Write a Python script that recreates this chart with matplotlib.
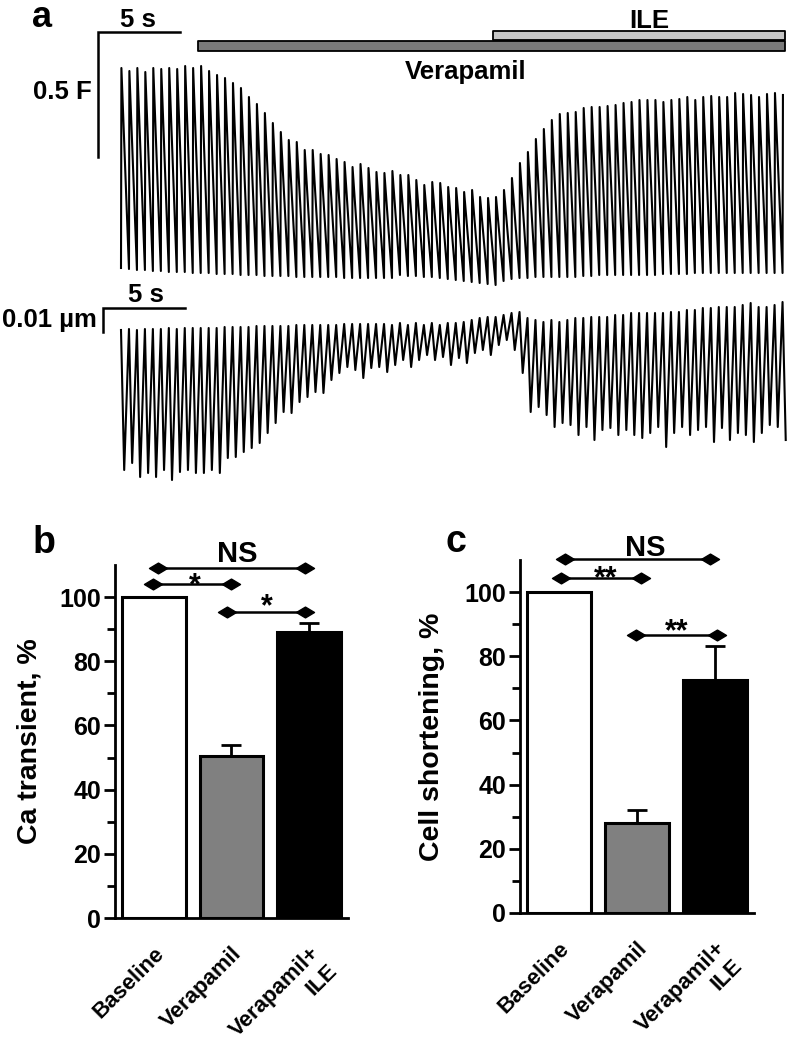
import numpy as np
import matplotlib
matplotlib.use("Agg")
import matplotlib.pyplot as plt
from matplotlib.path import Path

plt.rcParams["font.family"] = ["Liberation Sans", "DejaVu Sans"]
plt.rcParams["font.weight"] = "bold"

# =====================================================
# DATA
# =====================================================

# ---- panel a: per-beat values (arbitrary units) ----
# calcium: 250 units = 1 F ; cell length: 2400 units = 1 um
ca_peak = [232, 229, 232, 228, 232, 231, 232, 231, 234, 232, 234, 229, 225, 222, 217, 212, 203,
           196, 187, 177, 168, 160, 158, 150, 150, 146, 145, 141, 138, 133, 136, 132, 128, 127,
           129, 125, 125, 120, 115, 118, 117, 113, 112, 108, 110, 103, 102, 103, 110, 122, 137,
           148, 161, 171, 180, 186, 187, 188, 192, 193, 193, 194, 195, 197, 198, 200, 200, 200,
           198, 200, 201, 203, 200, 203, 204, 203, 203, 207, 206, 205, 203, 206, 207, 205]
ca_trough = [32, 31, 30, 30, 29, 29, 28, 28, 28, 27, 27, 27, 26, 26, 26, 25, 25, 25, 24, 24, 24,
             24, 23, 23, 23, 23, 23, 23, 22, 22, 22, 22, 22, 22, 22, 25, 24, 24, 23, 23, 22, 21,
             20, 19, 18, 17, 16, 15, 19, 21, 22, 22, 23, 23, 23, 23, 23, 23, 24, 24, 25, 25, 25,
             25, 25, 25, 25, 25, 26, 26, 26, 26, 27, 27, 27, 27, 27, 27, 27, 27, 27, 27, 27, 27]
cell_top = [170, 171, 170, 171, 171, 171, 172, 171, 172, 172, 172, 172, 172, 173, 173, 173, 173,
            174, 174, 174, 174, 174, 175, 175, 175, 175, 175, 175, 176, 176, 176, 176, 176, 176,
            175, 177, 175, 177, 175, 177, 175, 177, 177, 178, 180, 182, 183, 183, 185, 187, 188,
            182, 180, 178, 180, 178, 180, 182, 182, 183, 183, 183, 185, 185, 187, 187, 187, 187,
            187, 188, 188, 190, 190, 192, 192, 193, 193, 193, 195, 197, 193, 193, 195, 198]
cell_bottom = [30, 37, 23, 27, 23, 30, 20, 28, 30, 27, 27, 30, 27, 42, 43, 48, 52, 57, 67, 77,
               88, 87, 98, 103, 108, 107, 120, 127, 133, 130, 122, 132, 133, 128,
               135, 140, 133, 140, 145, 140, 143, 135, 142, 137, 147, 150, 145, 155, 160, 150, 127,
               88, 93, 85, 73, 77, 75, 65, 73, 60, 70, 72, 65, 70, 65, 62, 67, 73, 53, 67, 73,
               65, 70, 73, 58, 72, 60, 67, 65, 58, 67, 75, 73, 60]

BEAT_PERIOD = 0.486          # s
VERAPAMIL_START = 4.7        # s
ILE_START = 22.7             # s
RECORD_END = 40.5            # s

# ---- panels b, c ----
groups = ["Baseline", "Verapamil", "Verapamil+\nILE"]
ca_mean = [100, 50.5, 89.1]
ca_sem = [0, 3.3, 2.9]
cs_mean = [100, 27.9, 72.5]
cs_sem = [0, 4.2, 10.8]

bar_colors = ["white", "#808080", "black"]

# =====================================================

W, H = 788, 1057
fig = plt.figure(figsize=(W / 100, H / 100), dpi=100)

PX_PER_S = 16.4
T0_PX = 121
XLIM = (-T0_PX / PX_PER_S, (W - T0_PX) / PX_PER_S)

FS = 18.5
LW_TRACE = 1.5

beat_t = np.arange(len(ca_peak)) * BEAT_PERIOD

# -------- calcium trace --------
ax_ca = fig.add_axes([0, 1 - 300 / H, 1, 300 / H])
ax_ca.set_xlim(*XLIM)
ax_ca.set_ylim(0, 300)
ax_ca.axis("off")

ca_x = np.column_stack([beat_t, beat_t + 0.05 * BEAT_PERIOD]).ravel()
ca_y = np.column_stack([ca_trough, ca_peak]).ravel()
ax_ca.plot(ca_x, ca_y, color="black", lw=LW_TRACE, solid_joinstyle="round")

# treatment bars
ax_ca.broken_barh([(VERAPAMIL_START, RECORD_END - VERAPAMIL_START)], (249, 10),
                  facecolor="#7a7a7a", edgecolor="black", lw=1.3)
ax_ca.broken_barh([(ILE_START, RECORD_END - ILE_START)], (260, 9),
                  facecolor="#c6c6c6", edgecolor="black", lw=1.3)
ax_ca.text(32.2, 279, "ILE", ha="center", va="center", fontsize=FS, fontweight="bold")
ax_ca.text(21.0, 228, "Verapamil", ha="center", va="center", fontsize=FS, fontweight="bold")

# scale bar
ax_ca.plot([-1.40, -1.40, 3.6], [143, 268, 268], color="black", lw=1.8,
           solid_joinstyle="miter")
ax_ca.text(1.04, 268, "5 s", ha="center", va="bottom", fontsize=FS, fontweight="bold")
ax_ca.text(-1.77, 208, "0.5 F", ha="right", va="center", fontsize=FS, fontweight="bold")

# -------- cell shortening trace --------
ax_cell = fig.add_axes([0, 1 - 500 / H, 1, 220 / H])
ax_cell.set_xlim(*XLIM)
ax_cell.set_ylim(0, 220)
ax_cell.axis("off")

cs_x = np.column_stack([beat_t, beat_t + 0.4 * BEAT_PERIOD]).ravel()
cs_y = np.column_stack([cell_top, cell_bottom]).ravel()
ax_cell.plot(cs_x, cs_y, color="black", lw=LW_TRACE, solid_joinstyle="round")

ax_cell.plot([-1.1, -1.1, 3.9], [168, 192, 192], color="black", lw=1.8,
             solid_joinstyle="miter")
ax_cell.text(1.52, 193, "5 s", ha="center", va="bottom", fontsize=FS, fontweight="bold")
ax_cell.text(-1.46, 180, "0.01 µm", ha="right", va="center", fontsize=FS, fontweight="bold")

fig.text(32 / W, 1 - 27 / H, "a", fontsize=26, fontweight="bold", va="baseline")

# =====================================================
# bar panels
# =====================================================

diamond = Path([(-1, 0), (0, 0.6), (1, 0), (0, -0.6), (-1, 0)],
               [Path.MOVETO, Path.LINETO, Path.LINETO, Path.LINETO, Path.CLOSEPOLY])


def bracket(ax, x1, x2, y, label, label_x, label_y, fs=22):
    ax.plot([x1, x2], [y, y], color="black", lw=1.8, marker=diamond,
            markersize=13, clip_on=False, zorder=5)
    ax.text(label_x, label_y, label, ha="center", va="baseline", fontsize=fs,
            fontweight="bold", clip_on=False)


def bar_panel(rect, means, sems, ylabel, label_x):
    ax = fig.add_axes(rect)
    x = np.arange(len(means))
    ax.bar(x, means, width=0.82, color=bar_colors, edgecolor="black", linewidth=2.2,
           zorder=2)
    ax.errorbar(x, means, yerr=[np.zeros(len(sems)), sems], fmt="none", ecolor="black",
                elinewidth=2, capsize=7, capthick=2, zorder=1)
    ax.set_xlim(-0.5, 2.5)
    ax.set_ylim(0, 110)
    ax.set_yticks([0, 20, 40, 60, 80, 100])
    ax.set_yticks(np.arange(10, 110, 20), minor=True)
    ax.set_xticks(x)
    ax.set_xticklabels(groups, rotation=45, ha="right", va="top", rotation_mode="anchor",
                       fontsize=16, fontweight="bold", multialignment="right")
    for lab in ax.get_yticklabels():
        lab.set_fontweight("bold")
        lab.set_fontsize(18)
    ax.tick_params(axis="y", which="major", length=8, width=2, pad=2)
    ax.tick_params(axis="y", which="minor", length=6, width=2)
    ax.tick_params(axis="x", length=0, pad=18)
    for s in ["top", "right"]:
        ax.spines[s].set_visible(False)
    for s in ["left", "bottom"]:
        ax.spines[s].set_linewidth(2)
    ax.set_ylabel(ylabel, fontsize=20.5, fontweight="bold")
    ax.yaxis.set_label_coords(label_x, 0.5)
    return ax


ax_b = bar_panel([115 / W, 1 - 918 / H, 233 / W, 353 / H], ca_mean, ca_sem,
                 "Ca transient, %", -0.313)
bracket(ax_b, 0.05, 1.94, 109.2, "NS", 1.08, 110.8, fs=21)
bracket(ax_b, -0.01, 1.0, 104, "*", 0.53, 100.8)
bracket(ax_b, 0.94, 1.95, 95.3, "*", 1.46, 94.3)
fig.text(33 / W, 1 - 553 / H, "b", fontsize=27, fontweight="bold")

ax_c = bar_panel([520 / W, 1 - 913 / H, 234 / W, 353 / H], cs_mean, cs_sem,
                 "Cell shortening, %", -0.32)
bracket(ax_c, 0.08, 1.94, 110.2, "NS", 1.1, 111.2, fs=21)
bracket(ax_c, 0.02, 1.05, 104.3, "**", 0.6, 101.4)
bracket(ax_c, 0.99, 2.03, 86.6, "**", 1.51, 85.1)
fig.text(445 / W, 1 - 552 / H, "c", fontsize=27, fontweight="bold")

fig.savefig("out.png", dpi=100)
